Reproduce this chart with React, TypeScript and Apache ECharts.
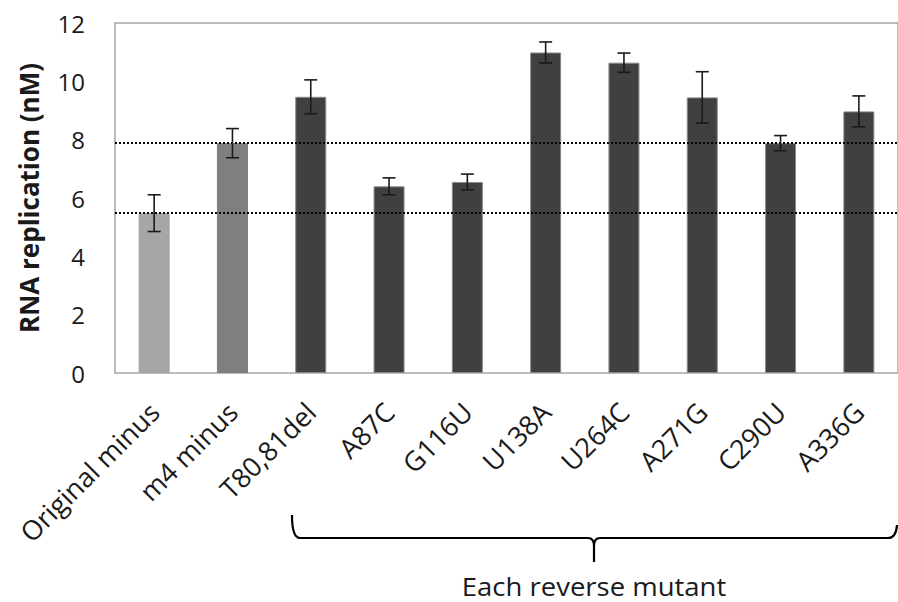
import React, { useEffect, useRef } from "react";
import * as echarts from "echarts";

const categories = [
  "Original minus",
  "m4 minus",
  "T80,81del",
  "A87C",
  "G116U",
  "U138A",
  "U264C",
  "A271G",
  "C290U",
  "A336G",
];
const values = [5.48, 7.88, 9.47, 6.4, 6.55, 10.99, 10.64, 9.45, 7.88, 8.97];
const errors = [0.63, 0.5, 0.58, 0.29, 0.27, 0.36, 0.33, 0.88, 0.26, 0.53];
const barColors = ["#a6a6a6", "#7f7f7f", "#404040", "#404040", "#404040", "#404040", "#404040", "#404040", "#404040", "#404040"];
const referenceLevels = [5.48, 7.88];
const yTicks = { min: 0, max: 12, interval: 2 };
const groupLabel = "Each reverse mutant";
const yTitle = "RNA replication (nM)";

const FONT = "'Open Sans', Lato, sans-serif";

echarts.graphic.registerShape(
  "brace",
  echarts.graphic.extendPath(
    "M 292 515 Q 292 538 300 538 L 588 538 Q 594 538 594 546 L 594 562 M 594 546 Q 594 538 600 538 L 888 538 Q 896 538 897 525",
    {}
  )
);

export default function App() {
  const ref = useRef<HTMLDivElement>(null);
  useEffect(() => {
    document.body.style.margin = "0";
    const chart = echarts.init(ref.current!, null, { renderer: "svg" });
    chart.setOption({
      animation: false,
      backgroundColor: "#ffffff",
      grid: {
        left: 115,
        top: 23,
        width: 790,
        height: 350,
        show: true,
        borderColor: "#a6a6a6",
        borderWidth: 1.5,
        backgroundColor: "transparent",
      },
      xAxis: {
        type: "category",
        data: categories,
        axisLine: { show: false },
        axisTick: { show: false },
        axisLabel: {
          rotate: 45,
          margin: 34,
          interval: 0,
          fontFamily: FONT,
          fontSize: 27,
          color: "#1a1a1a",
        },
      },
      yAxis: {
        type: "value",
        min: yTicks.min,
        max: yTicks.max,
        interval: yTicks.interval,
        axisLine: { show: false },
        axisTick: { show: false },
        splitLine: { show: false },
        axisLabel: {
          margin: 30,
          fontFamily: FONT,
          fontSize: 24,
          color: "#1a1a1a",
        },
        name: yTitle,
        nameLocation: "middle",
        nameGap: 73,
        nameTextStyle: {
          fontFamily: FONT,
          fontSize: 26,
          fontWeight: "bold",
          color: "#1a1a1a",
        },
      },
      series: [
        {
          type: "bar",
          barWidth: 31,
          data: values.map((v, i) => ({
            value: v,
            itemStyle: {
              color: barColors[i],
              borderColor: i < 2 ? barColors[i] : "#8a8a8a",
              borderWidth: 1,
            },
          })),
          markLine: {
            silent: true,
            symbol: ["none", "none"],
            label: { show: false },
            lineStyle: { type: [2, 2], color: "#000000", width: 2 },
            data: referenceLevels.map((y) => ({ yAxis: y })),
          },
          z: 2,
        },
        {
          type: "custom",
          z: 5,
          data: values.map((v, i) => [i, v - errors[i], v + errors[i]]),
          renderItem: (params: any, api: any) => {
            const x = api.value(0);
            const lo = api.coord([x, api.value(1)]);
            const hi = api.coord([x, api.value(2)]);
            const half = 6.5;
            const style = { stroke: "#1a1a1a", lineWidth: 1.6 };
            return {
              type: "group",
              children: [
                { type: "line", shape: { x1: lo[0], y1: lo[1], x2: hi[0], y2: hi[1] }, style },
                { type: "line", shape: { x1: hi[0] - half, y1: hi[1], x2: hi[0] + half, y2: hi[1] }, style },
                { type: "line", shape: { x1: lo[0] - half, y1: lo[1], x2: lo[0] + half, y2: lo[1] }, style },
              ],
            };
          },
        },
      ],
      graphic: [
        {
          type: "brace",
          x: 0,
          y: 0,
          style: { fill: null, stroke: "#000000", lineWidth: 2.2 },
        },
        {
          type: "text",
          x: 594,
          y: 586,
          scaleX: 1.1,
          style: {
            text: groupLabel,
            fontFamily: FONT,
            fontSize: 25,
            lineHeight: 28,
            fill: "#1a1a1a",
            textAlign: "center",
            textVerticalAlign: "middle",
          },
        },
      ],
    });
    return () => chart.dispose();
  }, []);
  return <div ref={ref} style={{ width: 898, height: 602 }} />;
}
